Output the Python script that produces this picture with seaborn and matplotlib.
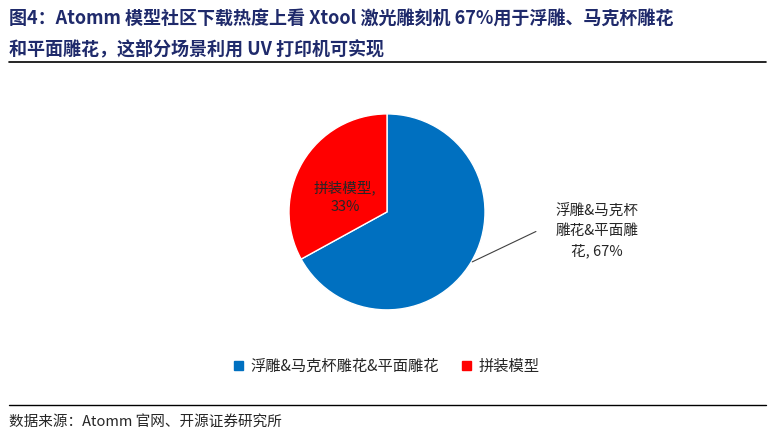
import matplotlib
matplotlib.use("Agg")
import matplotlib.pyplot as plt
import seaborn as sns
from matplotlib.patches import Patch

sns.set_theme(style="white")
plt.rcParams['font.family'] = ['Noto Sans CJK SC', 'DejaVu Sans']

categories = ["浮雕&马克杯雕花&平面雕花", "拼装模型"]
values = [67, 33]
colors = ["#0070C0", "#FF0000"]
title_lines = ["图4：Atomm 模型社区下载热度上看 Xtool 激光雕刻机 67%用于浮雕、马克杯雕花",
               "和平面雕花，这部分场景利用 UV 打印机可实现"]
source = "数据来源：Atomm 官网、开源证券研究所"

fig = plt.figure(figsize=(7.74, 4.36), dpi=100)
ax = fig.add_axes([0.5 - 0.1266, 0.514 - 0.2248, 0.2532, 0.4496])
ax.pie(values, colors=colors, startangle=90, counterclock=False,
       wedgeprops=dict(edgecolor="white", linewidth=1))
ax.set_xlim(-1, 1)
ax.set_ylim(-1, 1)
ax.set_aspect("equal")

ax.text(-0.43, 0.15, "拼装模型,\n33%", ha="center", va="center", fontsize=10.5, linespacing=1.4)
ax.text(2.14, -0.2, "浮雕&马克杯\n雕花&平面雕\n花, 67%", ha="center", va="center",
        fontsize=10.5, linespacing=1.5)
ax.plot([0.87, 1.52], [-0.51, -0.2], color="#404040", lw=0.8, clip_on=False)

fig.text(0.012, 0.955, title_lines[0], fontsize=13, fontweight="bold", color="#1F2A6B", va="center")
fig.text(0.012, 0.888, title_lines[1], fontsize=13, fontweight="bold", color="#1F2A6B", va="center")
fig.add_artist(plt.Line2D([0.012, 0.99], [0.858, 0.858], color="black", lw=1.2))

handles = [Patch(color=c, label=l) for c, l in zip(colors, categories)]
fig.legend(handles=handles, loc="center", bbox_to_anchor=(0.5, 0.16), ncol=2, frameon=False,
           fontsize=11, handlelength=0.6, handleheight=0.6, columnspacing=1.5, handletextpad=0.5)

fig.add_artist(plt.Line2D([0.012, 0.99], [0.072, 0.072], color="black", lw=1.0))
fig.text(0.012, 0.032, source, fontsize=10.5, va="center")

fig.savefig("out.png", dpi=100)
